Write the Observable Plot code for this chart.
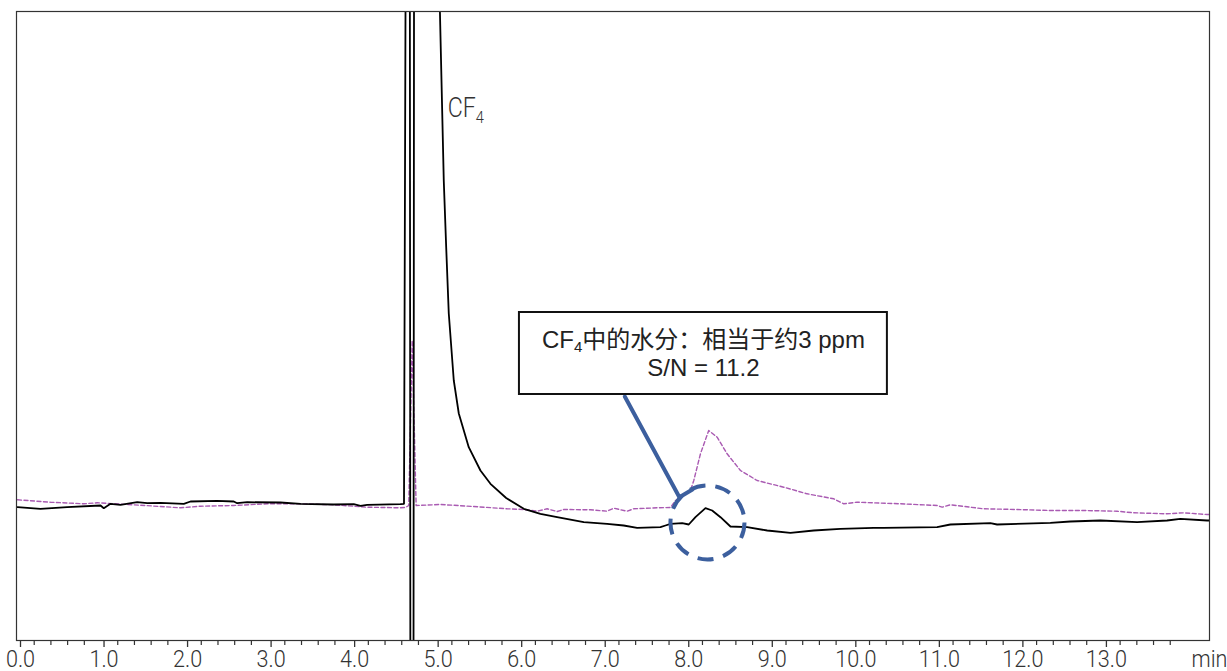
<!DOCTYPE html>
<html><head><meta charset="utf-8">
<script src="https://cdn.jsdelivr.net/npm/d3@7"></script>
<script src="https://cdn.jsdelivr.net/npm/@observablehq/plot@0.6"></script>
<style>body{margin:0;background:#fff} #chart{width:1227px;height:671px}</style>
</head><body><div id="chart"></div>
<script>
// Retention time (min) and detector signal (arbitrary units) for the main trace (black)
const blackTime = [0.000,0.275,0.595,0.994,1.033,1.113,1.233,1.433,1.553,1.712,1.991,2.071,2.390,2.589,2.630,2.750,3.148,3.388,3.786,4.026,4.106,4.186,4.585,4.627,4.646,4.697,4.703,4.741,4.747,5.040,5.057,5.103,5.132,5.163,5.223,5.283,5.402,5.542,5.662,5.850,6.061,6.260,6.460,6.779,7.059,7.257,7.418,7.697,7.757,7.817,7.957,8.036,8.116,8.236,8.316,8.416,8.535,8.735,8.975,9.253,9.532,9.851,10.250,10.366,11.009,11.168,11.647,11.727,12.365,12.604,12.964,13.403,13.762,13.921,14.241,14.270];
const blackSignal = [133.3,131.7,133.3,135,132.3,136.7,135.7,138.3,137.3,137.7,136.7,139,139.7,139,137.3,138.3,138,136.7,136,136.3,134.7,135.7,136.3,136.7,660,660,-20,-20,660,660,629,460,393.3,327,260,227,193.3,170,156.7,142.5,131.7,126.7,123.3,118.3,116.7,115,112.7,113.3,115,116.7,117.3,116,123.3,132.3,130,123.3,114,113.3,110,107.7,110,111.7,112.7,112.7,113.3,116,117.3,116,117.7,119,120,118.3,120,121.7,120,120];
// Second trace (purple dashed)
const purpleTime = [0.000,0.395,0.794,0.954,1.392,1.951,2.191,2.589,2.989,3.388,3.786,4.186,4.585,4.645,4.684,4.725,4.772,5.063,5.462,5.862,6.061,6.221,6.341,6.460,6.539,6.859,7.059,7.138,7.298,7.377,7.657,7.817,7.877,8.056,8.096,8.176,8.275,8.376,8.495,8.655,8.854,9.173,9.453,9.771,9.891,10.051,10.570,11.009,11.069,11.168,11.567,11.967,12.365,12.764,13.163,13.362,13.762,13.961,14.241,14.270];
const purpleSignal = [140.7,138.3,136.7,137.7,135.7,132.7,134.3,135,136.7,136.7,135.7,133.3,132.7,133,135,300,135,136,134,131.7,131,129.3,131.7,129,131,130.7,129.3,132.3,129.3,131.7,132.7,133,140,150,160,186.7,210,203.3,186.7,170,160,153.3,146.7,141.7,136.7,138.3,136.7,135,133.3,135.7,131.7,131,130,130,129.3,127.7,126.7,127.7,126,126];

// Axis ticks
const majorTicks = [0,1,2,3,4,5,6,7,8,9,10,11,12,13];
const minorTicks = d3.range(0, 71).map(i => i * 0.2).filter(v => Math.abs(v - Math.round(v)) > 1e-6 && v < 14.25);
const axisUnit = "min";

// Annotations
const peakLabel = "CF4";
const peakLabelPos = [5.15, 532];
const boxLines = ["CF4中的水分：相当于约3 ppm", "S/N = 11.2"];
const boxLineY = [300, 272];
const boxX = [6.009, 10.414];
const boxY = [246, 328];
const leaderT = [7.27, 7.924, 8.08];
const leaderS = [244, 143.3, 151];
const circleCenter = [8.26, 118];

const black = blackTime.map((t, i) => ({t, s: blackSignal[i]}));
const purple = purpleTime.map((t, i) => ({t, s: purpleSignal[i]}));
const leader = leaderT.map((t, i) => ({t, s: leaderS[i]}));
const boxCenter = (boxX[0] + boxX[1]) / 2;

const chart = Plot.plot({
  width: 1227, height: 671,
  marginLeft: 16, marginRight: 18, marginTop: 11, marginBottom: 31,
  style: {fontFamily: "Roboto, 'Liberation Sans', sans-serif", fontSize: "24px", fontWeight: 300, background: "#fff", color: "#333"},
  x: {domain: [-0.012, 14.27], label: null},
  y: {domain: [0, 629], axis: null},
  marks: [
    Plot.axisX({ticks: minorTicks, tickSize: 5, tickFormat: () => "", stroke: "#333", strokeWidth: 1.2}),
    Plot.axisX({ticks: majorTicks, tickSize: 7, tickPadding: 2, tickFormat: d => d.toFixed(1), dx: 3, fontSize: 24, fill: "#333", stroke: "#333", strokeWidth: 1.3, label: null}),
    Plot.text([axisUnit], {x: () => 14.27, frameAnchor: "bottom", lineAnchor: "top", dy: 9, fontSize: 24, text: d => d, fill: "#333"}),
    Plot.line(purple, {x: "t", y: "s", stroke: "#a95ab2", strokeWidth: 1.4, strokeDasharray: "4,2.5", clip: true}),
    Plot.line(black, {x: "t", y: "s", stroke: "#000", strokeWidth: 1.8, clip: true}),
    Plot.frame({stroke: "#333", strokeWidth: 1.2}),
    Plot.line(leader, {x: "t", y: "s", stroke: "#3c5f9e", strokeWidth: 4}),
    Plot.rect([0], {x1: () => boxX[0], x2: () => boxX[1], y1: () => boxY[0], y2: () => boxY[1], fill: "#fff", stroke: "#111", strokeWidth: 2}),
    Plot.text(boxLines, {x: () => boxCenter, y: (d, i) => boxLineY[i], text: d => d, fontSize: 24, fontWeight: 400, fontFamily: "'Liberation Sans', 'Noto Sans CJK SC', sans-serif", fill: "#222"}),
    Plot.dot([0], {x: () => circleCenter[0], y: () => circleCenter[1], r: 37, fill: "none", stroke: "#3c5f9e", strokeWidth: 4, strokeDasharray: "16,10"}),
    Plot.text([peakLabel], {x: () => peakLabelPos[0], y: () => peakLabelPos[1], text: d => d, textAnchor: "start", fontSize: 27, fontWeight: 300, fill: "#333"})
  ]
});
document.getElementById("chart").appendChild(chart);

const svg = d3.select(chart);
// condensed look for axis labels
svg.selectAll('g[aria-label="x-axis tick label"] text, g[aria-label="text"] text').each(function() {
  const txt = this.textContent;
  const k = txt === peakLabel ? 0.86 : 0.9;
  if (txt === axisUnit || /^\d+\.\d$/.test(txt) || txt === peakLabel) {
    const tr = this.getAttribute("transform") || "";
    this.setAttribute("transform", tr + ` scale(${k},1)`);
  }
});
// subscripts for CF4
svg.selectAll("text").each(function() {
  const txt = this.textContent;
  if (txt.startsWith("CF4")) {
    const rest = txt.slice(3);
    const sel = d3.select(this);
    const big = txt === peakLabel;
    sel.text(null);
    sel.append("tspan").text("CF");
    sel.append("tspan").attr("font-size", big ? "17px" : "15px").attr("dy", big ? 6 : 4).text("4");
    if (rest) sel.append("tspan").attr("dy", -4).text(rest);
  }
});
</script>
</body></html>
